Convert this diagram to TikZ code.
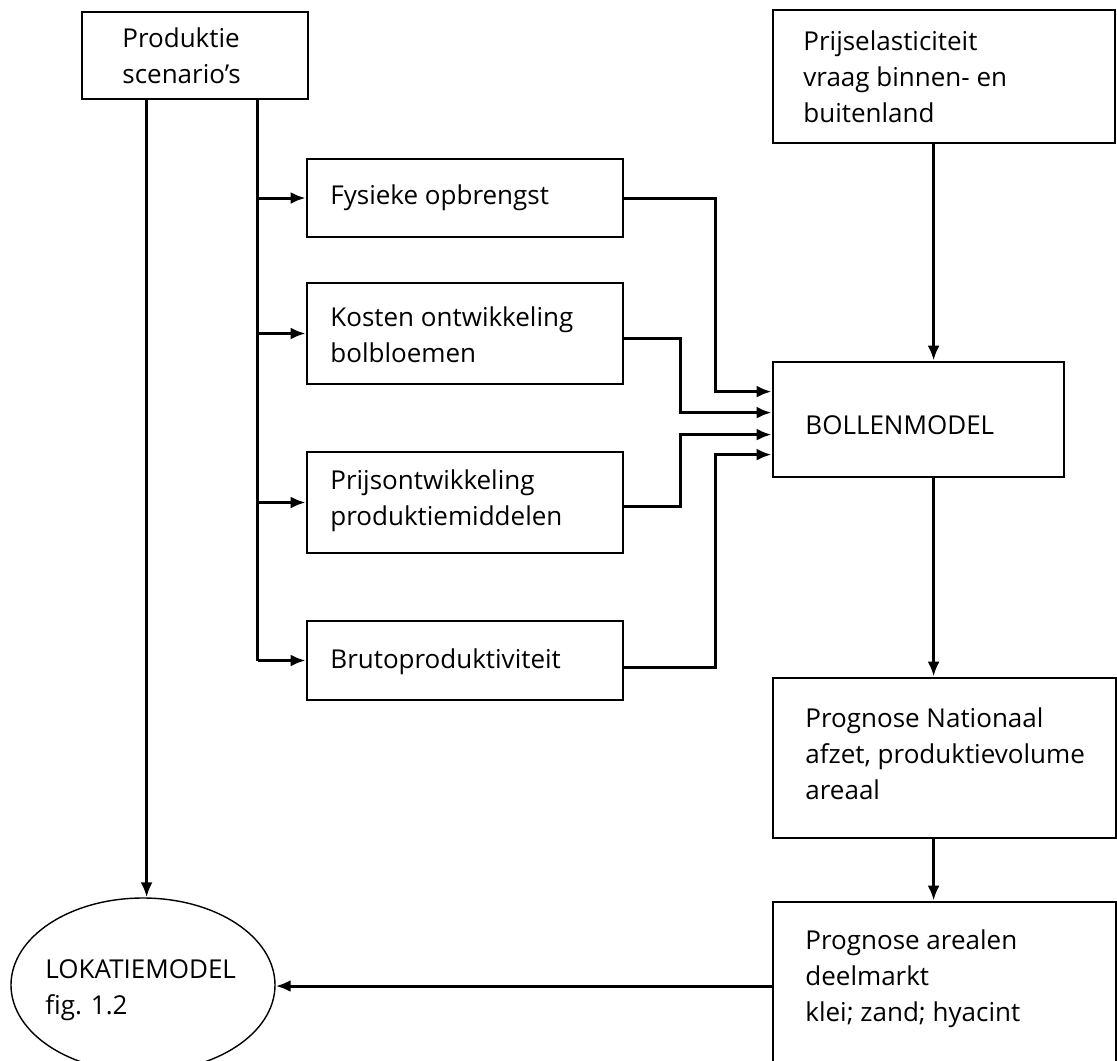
\documentclass[tikz,border=0pt]{standalone}
\usepackage{fontspec}
\setmainfont{Open Sans}
\usetikzlibrary{arrows.meta,shapes.geometric,calc}
\begin{document}
\begin{tikzpicture}[x=0.5pt,y=-0.5pt,
  box/.style={draw,line width=1.4pt,rectangle,inner sep=0pt},
  lbl/.style={anchor=west,align=left,inner sep=0pt,font=\fontsize{13}{18}\selectfont},
  wire/.style={line width=1.5pt},
  arr/.style={wire,-{Latex[length=7.5pt,width=6pt]}}]
\useasboundingbox (0,0) rectangle (1117,1060);
\clip (0,0) rectangle (1117,1060);

% boxes
\node[box,minimum width=113pt,minimum height=43.5pt] (prod) at (195,55.5) {};
\node[box,minimum width=158pt,minimum height=39pt] (fys) at (465,198) {};
\node[box,minimum width=158pt,minimum height=50.5pt] (kost) at (465,333.5) {};
\node[box,minimum width=158pt,minimum height=50.5pt] (prijs) at (465,502.5) {};
\node[box,minimum width=158pt,minimum height=39.5pt] (bruto) at (465,660.5) {};
\node[box,minimum width=171pt,minimum height=66.5pt] (elast) at (944,76.5) {};
\node[box,minimum width=145.5pt,minimum height=57.5pt] (bollen) at (918.5,419.5) {};
\node[box,minimum width=171.5pt,minimum height=80pt] (nat) at (944.5,758) {};
\node[box,minimum width=171.5pt,minimum height=84pt] (areal) at (944.5,986) {};
\node[draw,ellipse,line width=0.7pt,minimum width=132pt,minimum height=87pt,inner sep=0pt] (lok) at (143,985) {};

% texts
\node[lbl] (prodT) at (122,56) {Produktie\\scenario's};
\node[lbl] (fysT) at (330,198) {Fysieke opbrengst};
\node[lbl] (kostT) at (330,335) {Kosten ontwikkeling\\bolbloemen};
\node[lbl] (prijsT) at (330,501) {Prijsontwikkeling\\produktiemiddelen};
\node[lbl] (brutoT) at (330,662) {Brutoproduktiviteit};
\node[lbl] (elastT) at (803,77) {Prijselasticiteit\\vraag binnen- en\\buitenland};
\node[lbl] (bolT) at (805,425) {BOLLENMODEL};
\node[lbl] (natT) at (805,754) {Prognose Nationaal\\afzet, produktievolume\\areaal};
\node[lbl] (arealT) at (805,979) {Prognose arealen\\deelmarkt\\klei; zand; hyacint};
\node[lbl] (lokT) at (45,990) {LOKATIEMODEL\\fig. 1.2};

% scenario lines
\coordinate (lokIn) at ($(prod.south west)+(66,0)$);
\draw[arr] (lokIn) -- (lokIn |- lok.north);
\coordinate (bus) at ($(prod.south west)+(177,0)$);
\draw[wire] (bus) -- (bus |- bruto.west);
\foreach \n in {fys,kost,prijs,bruto}
  \draw[arr] (bus |- \n.west) -- (\n.west);

% inputs of the bulb model
\coordinate (in1) at ($(bollen.north west)+(0,31)$);
\coordinate (in2) at ($(bollen.north west)+(0,52)$);
\coordinate (in3) at ($(bollen.north west)+(0,74)$);
\coordinate (in4) at ($(bollen.north west)+(0,94)$);
\draw[arr] (fys.east) -- ++(91,0) |- (in1);
\draw[arr] ($(kost.east)+(0,5)$) -- ++(56,0) |- (in2);
\draw[arr] ($(prijs.east)+(0,4)$) -- ++(56,0) |- (in3);
\draw[arr] ($(bruto.east)+(0,7)$) -- ++(91,0) |- (in4);

% vertical chain on the right
\coordinate (bTop) at ($(bollen.north west)+(162,0)$);
\coordinate (bBot) at ($(bollen.south west)+(162,0)$);
\draw[arr] (bTop |- elast.south) -- (bTop);
\draw[arr] (bBot) -- (bBot |- nat.north);
\draw[arr] (bBot |- nat.south) -- (bBot |- areal.north);
\draw[arr] (areal.west) -- (areal.west -| lok.east);
\end{tikzpicture}
\end{document}
